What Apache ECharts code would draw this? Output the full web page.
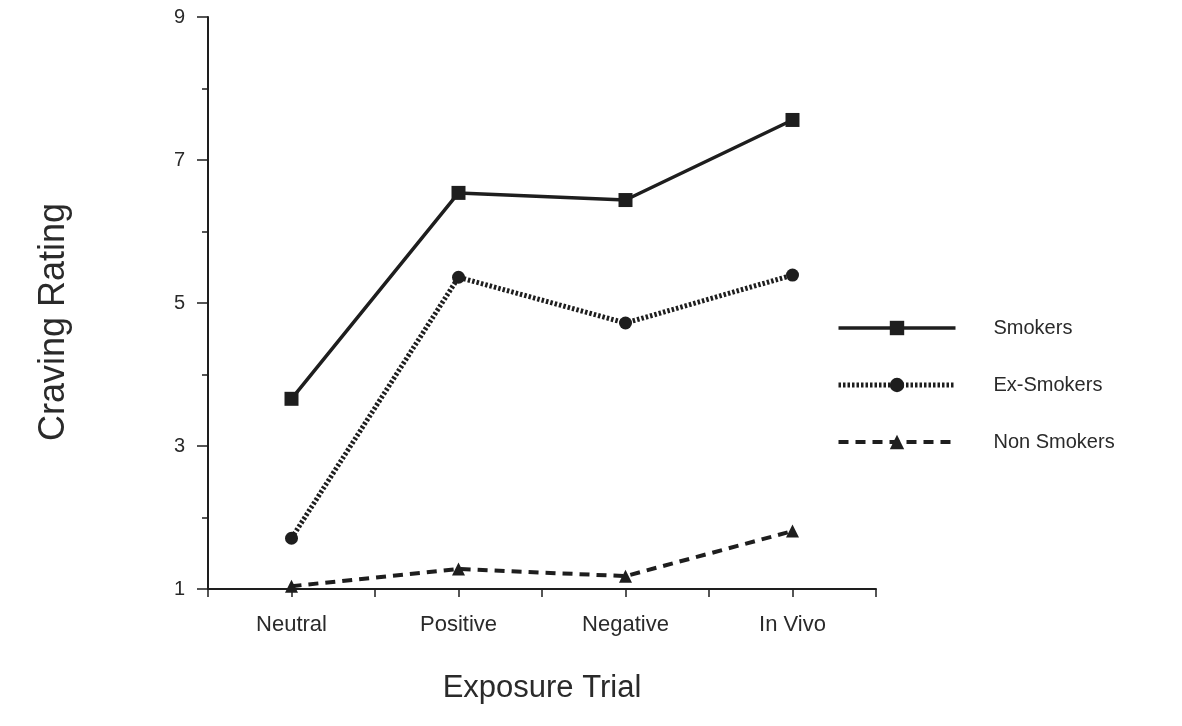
<!DOCTYPE html>
<html>
<head>
<meta charset="utf-8">
<script src="https://cdn.jsdelivr.net/npm/echarts@6/dist/echarts.min.js"></script>
<style>
html,body{margin:0;padding:0;background:#fff;}
#chart{width:1182px;height:726px;}
</style>
</head>
<body>
<div id="chart"></div>
<script>
// ---- data ----
const categories = ['Neutral', 'Positive', 'Negative', 'In Vivo'];
const categoryPositions = [1, 3, 5, 7];
const seriesNames = ['Smokers', 'Ex-Smokers', 'Non Smokers'];
const smokers = [3.66, 6.54, 6.44, 7.56];
const exSmokers = [1.71, 5.36, 4.72, 5.39];
const nonSmokers = [1.04, 1.28, 1.18, 1.81];
const yTickLabels = [1, 3, 5, 7, 9];
const yMinorTicks = [2, 4, 6, 8];
const xTitle = 'Exposure Trial';
const yTitle = 'Craving Rating';

const ink = '#1e1e1e';
const textInk = '#2a2a2a';
const font = 'Liberation Sans';

function pairs(vals) {
  return vals.map((v, i) => [categoryPositions[i], v]);
}

const chart = echarts.init(document.getElementById('chart'), null, {renderer: 'canvas'});
chart.setOption({
  animation: false,
  backgroundColor: '#ffffff',
  grid: {left: 208, top: 17, right: 306, bottom: 137, containLabel: false},
  legend: {
    orient: 'vertical',
    left: 831,
    top: 313,
    itemWidth: 117,
    itemHeight: 18,
    itemGap: 37,
    data: seriesNames,
    lineStyle: {width: 'inherit'},
    textStyle: {color: textInk, fontSize: 20, fontFamily: font, padding: [0, 0, 0, 33], lineHeight: 18}
  },
  xAxis: {
    type: 'value',
    min: 0,
    max: 8,
    interval: 1,
    axisLine: {show: true, lineStyle: {color: ink, width: 2}},
    axisTick: {show: true, inside: false, length: 8, lineStyle: {color: ink, width: 1.5}},
    splitLine: {show: false},
    axisLabel: {
      margin: 25,
      color: textInk,
      fontSize: 22,
      fontFamily: font,
      formatter: function (v) {
        const idx = categoryPositions.indexOf(v);
        return idx >= 0 ? categories[idx] : '';
      }
    },
    name: xTitle,
    nameLocation: 'middle',
    nameGap: 84,
    nameTextStyle: {color: textInk, fontSize: 31, fontFamily: font}
  },
  yAxis: [{
    type: 'value',
    position: 'left',
    min: 1,
    max: 9,
    interval: 1,
    axisLine: {show: true, lineStyle: {color: ink, width: 2}},
    axisTick: {show: true, length: 11, customValues: yTickLabels, lineStyle: {color: ink, width: 1.5}},
    splitLine: {show: false},
    axisLabel: {margin: 23, color: textInk, fontSize: 20, fontFamily: font, customValues: yTickLabels},
    name: yTitle,
    nameLocation: 'middle',
    nameGap: 136,
    nameRotate: 90,
    nameTextStyle: {color: textInk, fontSize: 36, fontFamily: font, padding: [0, 38, 0, 0]}
  }, {
    type: 'value',
    position: 'left',
    min: 1,
    max: 9,
    interval: 1,
    axisLine: {show: false},
    axisTick: {show: true, length: 6, customValues: yMinorTicks, lineStyle: {color: ink, width: 1.5}},
    splitLine: {show: false},
    axisLabel: {show: false}
  }],
  series: [{
    name: seriesNames[0],
    type: 'line',
    data: pairs(smokers),
    symbol: 'rect',
    symbolSize: 14,
    itemStyle: {color: ink},
    lineStyle: {color: ink, width: 3.5, type: 'solid'}
  }, {
    name: seriesNames[1],
    type: 'line',
    data: pairs(exSmokers),
    symbol: 'circle',
    symbolSize: 13,
    itemStyle: {color: ink},
    lineStyle: {color: ink, width: 5, type: [2.5, 2]}
  }, {
    name: seriesNames[2],
    type: 'line',
    data: pairs(nonSmokers),
    symbol: 'triangle',
    symbolSize: 13,
    itemStyle: {color: ink},
    lineStyle: {color: ink, width: 4, type: [10, 7]}
  }]
});
</script>
</body>
</html>
